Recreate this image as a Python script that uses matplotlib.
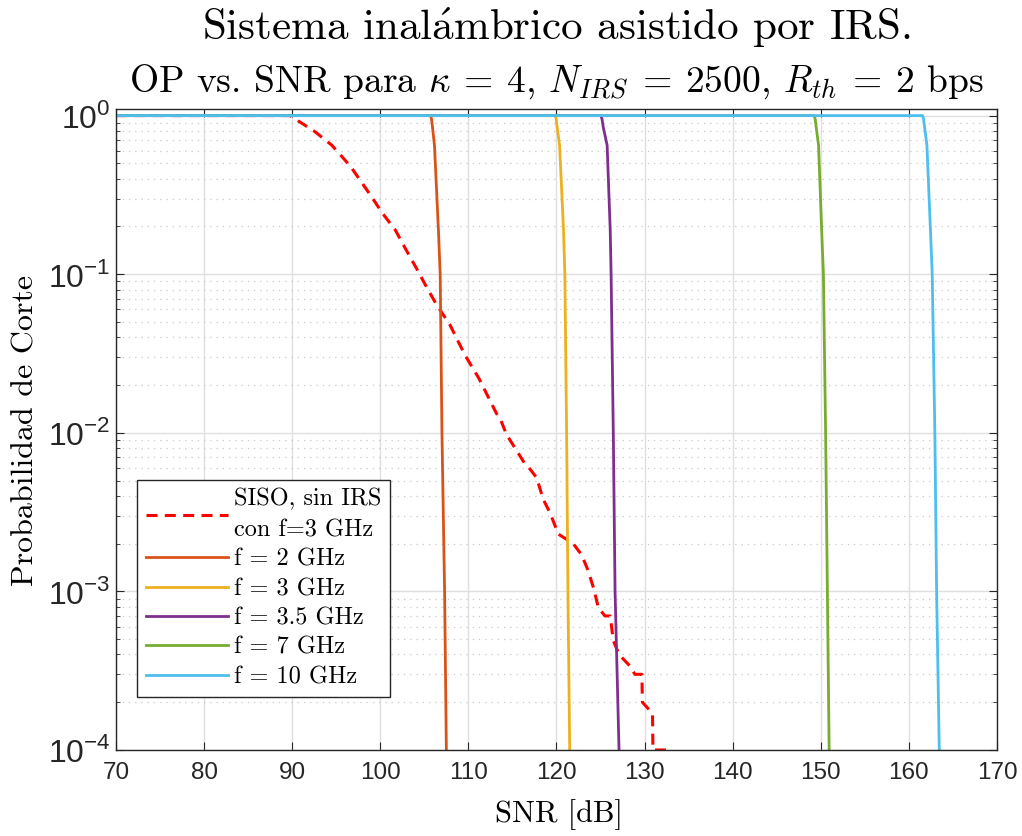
import matplotlib
matplotlib.use("Agg")
import matplotlib.pyplot as plt
from matplotlib.ticker import FixedLocator, LogLocator, NullFormatter

plt.rcParams['font.family'] = ['Liberation Sans', 'DejaVu Sans']
plt.rcParams['mathtext.fontset'] = 'custom'
plt.rcParams['mathtext.rm'] = 'Liberation Sans'

# SISO sin IRS (simulado), f = 3 GHz
siso_snr = [70, 88, 89.75, 92.6, 94.5, 96.6, 98.8, 100.3, 101.7, 103.0, 104.1, 105.3,
            106.4, 107.9, 109.6, 111.2, 113.2, 113.6, 114.35, 115.3, 116.4, 116.8,
            117.75, 118.5, 119.3, 120.2, 121.3, 121.9, 122.85, 123.6, 124.25, 124.75,
            125.5, 126.1, 126.45, 127.1, 128.3, 128.9, 129.7, 129.75, 130.9, 130.95, 132.7]
siso_op = [1, 1, 1.0, 0.79, 0.65, 0.48, 0.32, 0.24, 0.19, 0.14, 0.109, 0.082,
           0.064, 0.048, 0.031, 0.022, 0.0132, 0.0123, 0.0097, 0.0080, 0.0064, 0.0061,
           0.0052, 0.0038, 0.0031, 0.0023, 0.0021, 0.0020, 0.0017, 0.00135, 0.00103, 0.00079,
           0.0007, 0.0007, 0.00049, 0.0004, 0.00034, 0.0003, 0.0003, 0.0002, 0.00017, 0.0001, 0.0001]

# curvas con IRS: OP comun, SNR leida para cada frecuencia
irs_op = [1, 1, 0.95, 0.85, 0.65, 0.19, 0.1, 0.01, 1e-3, 1e-4]
snr_2ghz = [70, 105.7, 105.82, 105.92, 106.15, 106.6, 106.8, 107.0, 107.3, 107.5]
snr_3ghz = [70, 119.85, 119.97, 120.07, 120.35, 120.8, 120.95, 121.15, 121.3, 121.5]
snr_35ghz = [70, 125.05, 125.17, 125.3, 125.75, 126.1, 126.2, 126.45, 126.65, 127.1]
snr_7ghz = [70, 149.25, 149.37, 149.47, 149.75, 150.1, 150.3, 150.55, 150.75, 150.95]
snr_10ghz = [70, 161.55, 161.67, 161.78, 162.05, 162.45, 162.65, 162.95, 163.15, 163.45]

labels = ['f = 2 GHz', 'f = 3 GHz', 'f = 3.5 GHz', 'f = 7 GHz', 'f = 10 GHz']
colors = ['#D95319', '#EDB120', '#7E2F8E', '#77AC30', '#4DBEEE']
xticks = [70, 80, 90, 100, 110, 120, 130, 140, 150, 160, 170]
yticks = [1e-4, 1e-3, 1e-2, 1e-1, 1]
ytick_labels = ['10$^{\\mathrm{-4}}$', '10$^{\\mathrm{-3}}$', '10$^{\\mathrm{-2}}$',
                '10$^{\\mathrm{-1}}$', '10$^{\\mathrm{0}}$']

fig = plt.figure(figsize=(10.22, 8.36), dpi=100)
ax = fig.add_axes([0.1135, 0.1029, 0.862, 0.7667])

ax.semilogy(siso_snr, siso_op, color='#FF0000', lw=2.2, dashes=(3.6, 2.4),
            label='SISO, sin IRS\ncon f=3 GHz')
for snr, lab, c in zip([snr_2ghz, snr_3ghz, snr_35ghz, snr_7ghz, snr_10ghz], labels, colors):
    ax.semilogy(snr, irs_op, color=c, lw=2, label=lab)

ax.set_xlim(70, 170)
ax.set_ylim(1e-4, 1.1)
ax.xaxis.set_major_locator(FixedLocator(xticks))
ax.yaxis.set_major_locator(FixedLocator(yticks))
ax.set_yticklabels(ytick_labels)
ax.yaxis.set_minor_locator(LogLocator(base=10, subs=range(2, 10)))
ax.yaxis.set_minor_formatter(NullFormatter())

ax.grid(True, which='major', color='#DFDFDF', lw=1)
ax.grid(True, which='minor', axis='y', color='#C8C8C8', lw=0.9, ls=(0, (1, 4)))
ax.set_axisbelow(True)
ax.tick_params(which='both', direction='in', top=True, right=True,
               color='#262626', labelcolor='#262626')
ax.tick_params(axis='x', labelsize=17.5, pad=9)
ax.tick_params(axis='y', labelsize=23, pad=4)
ax.tick_params(which='major', length=6)
ax.tick_params(which='minor', length=3)
for s in ax.spines.values():
    s.set_color('#262626')
    s.set_linewidth(1)

serif = dict(family='cmr10', math_fontfamily='cm')
fig.text(0.5445, 1 - 40 / 836, 'Sistema inal$\\mathrm{\\acute{a}}$mbrico asistido por IRS.',
         ha='center', va='baseline', fontsize=31, **serif)
fig.text(0.5445, 1 - 92 / 836,
         'OP vs. SNR para $\\kappa\\:=\\:\\mathrm{4}$, $N_{IRS}\\:=\\:\\mathrm{2500}$, '
         '$R_{th}\\:=\\:\\mathrm{2}$ bps',
         ha='center', va='baseline', fontsize=27, **serif)
fig.text(559 / 1022, 1 - 815 / 836, 'SNR [dB]', ha='center', va='center',
         fontsize=22, **serif)
fig.text(26 / 1022, 1 - 430 / 836, 'Probabilidad de Corte', ha='center', va='center',
         rotation=90, fontsize=23, **serif)

leg = ax.legend(loc='lower left', bbox_to_anchor=(0.024, 0.083), borderaxespad=0,
                prop={'family': 'cmr10', 'size': 17.5}, handlelength=3.4,
                handletextpad=0.25, labelspacing=0.3, borderpad=0.35,
                fancybox=False, framealpha=1, edgecolor='#262626')
leg.get_frame().set_linewidth(1)
leg.get_texts()[0].set_linespacing(1.5)

fig.savefig('out.png', dpi=100, facecolor='white')
